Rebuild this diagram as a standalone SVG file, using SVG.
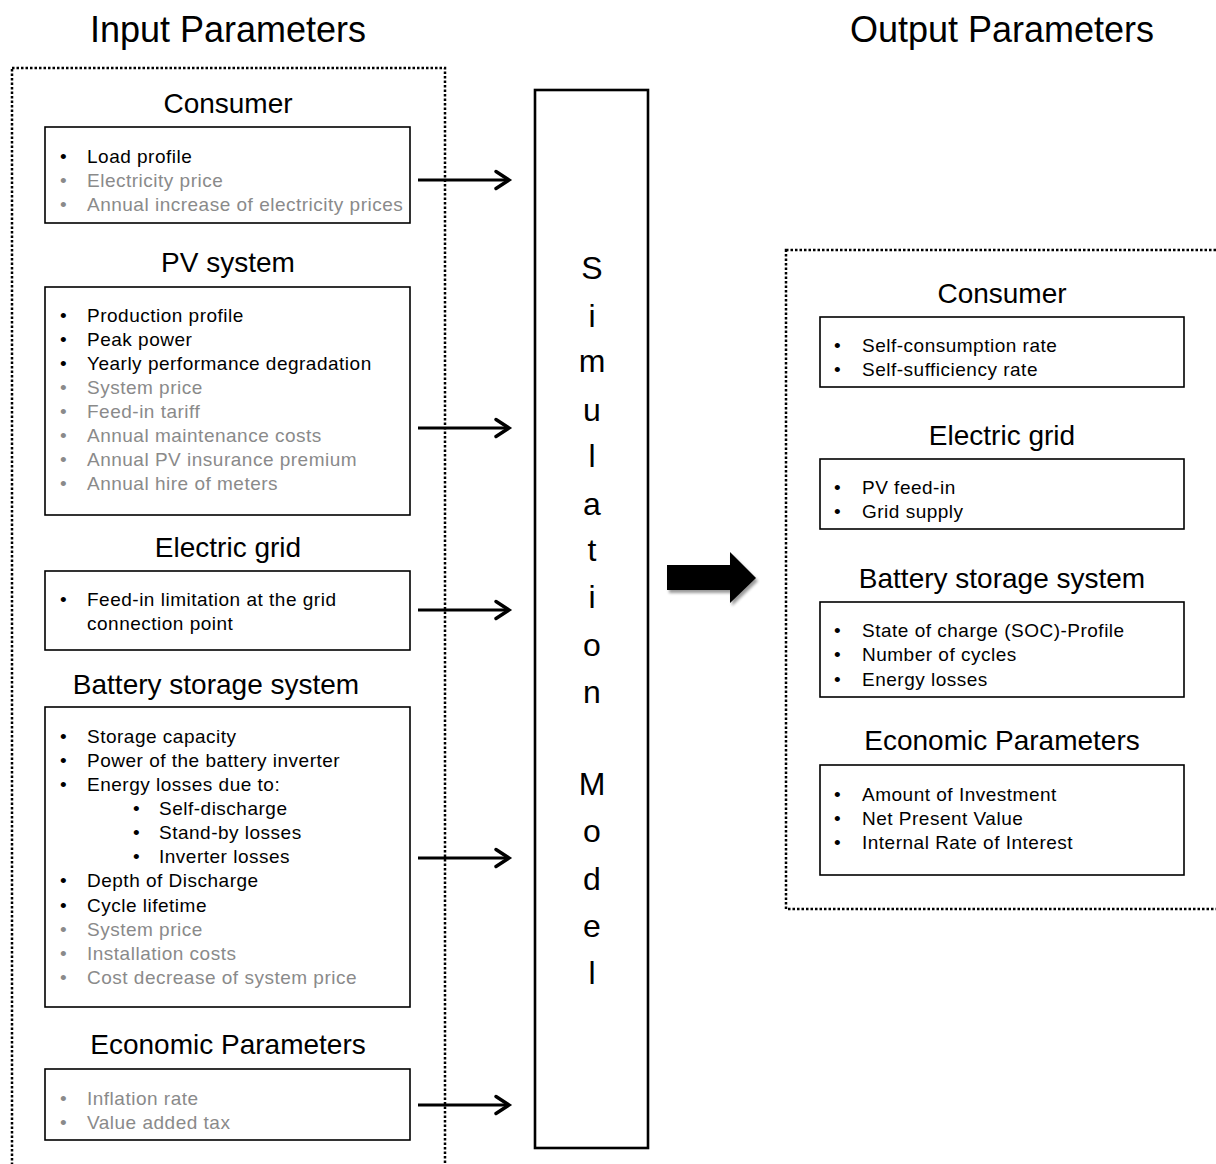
<svg xmlns="http://www.w3.org/2000/svg" width="1216" height="1164" viewBox="0 0 1216 1164">
<defs>
<style>
text{font-family:"Liberation Sans",Arial,sans-serif;fill:#000}
.title{font-size:36px;text-anchor:middle}
.head{font-size:28px;text-anchor:middle}
.it{font-size:19px;letter-spacing:0.5px}
.g{fill:#8a8a8a}
.box{fill:none;stroke:#000;stroke-width:1.6}
.dot{fill:none;stroke:#000;stroke-width:2.5;stroke-dasharray:2.5 2}
.sim{font-size:32px;text-anchor:middle}
.conn{stroke:#000;stroke-width:3.2;fill:none}
</style>
<marker id="ah" markerWidth="8" markerHeight="10" refX="6" refY="5" orient="auto" markerUnits="userSpaceOnUse" viewBox="0 0 8 10" overflow="visible">
<path d="M-7,-3.5 L6,5 L-7,13.5" fill="none" stroke="#000" stroke-width="3.4" stroke-linecap="round" stroke-linejoin="miter"/>
</marker>
<filter id="sh" x="-20%" y="-20%" width="150%" height="150%">
<feGaussianBlur in="SourceAlpha" stdDeviation="1.5"/>
<feOffset dx="2" dy="3" result="b"/>
<feComponentTransfer><feFuncA type="linear" slope="0.4"/></feComponentTransfer>
<feMerge><feMergeNode/><feMergeNode in="SourceGraphic"/></feMerge>
</filter>
</defs>
<rect width="1216" height="1164" fill="#fff"/>

<text class="title" x="228" y="42">Input Parameters</text>
<text class="title" x="1002" y="42">Output Parameters</text>

<rect class="dot" x="12" y="68" width="433" height="1110"/>
<rect class="dot" x="786" y="250" width="440" height="659"/>

<g id="in-consumer">
<text class="head" x="228" y="113">Consumer</text>
<rect class="box" x="45" y="127" width="365" height="96"/>
<text class="it" x="60" y="163">•</text><text class="it" x="87" y="163">Load profile</text>
<text class="it g" x="60" y="187">•</text><text class="it g" x="87" y="187">Electricity price</text>
<text class="it g" x="60" y="211">•</text><text class="it g" x="87" y="211">Annual increase of electricity prices</text>
</g>

<g id="in-pv">
<text class="head" x="228" y="272">PV system</text>
<rect class="box" x="45" y="287" width="365" height="228"/>
<text class="it" x="60" y="322">•</text><text class="it" x="87" y="322">Production profile</text>
<text class="it" x="60" y="346">•</text><text class="it" x="87" y="346">Peak power</text>
<text class="it" x="60" y="370">•</text><text class="it" x="87" y="370">Yearly performance degradation</text>
<text class="it g" x="60" y="394">•</text><text class="it g" x="87" y="394">System price</text>
<text class="it g" x="60" y="418">•</text><text class="it g" x="87" y="418">Feed-in tariff</text>
<text class="it g" x="60" y="442">•</text><text class="it g" x="87" y="442">Annual maintenance costs</text>
<text class="it g" x="60" y="466">•</text><text class="it g" x="87" y="466">Annual PV insurance premium</text>
<text class="it g" x="60" y="490">•</text><text class="it g" x="87" y="490">Annual hire of meters</text>
</g>

<g id="in-grid">
<text class="head" x="228" y="557">Electric grid</text>
<rect class="box" x="45" y="571" width="365" height="79"/>
<text class="it" x="60" y="606">•</text><text class="it" x="87" y="606">Feed-in limitation at the grid</text>
<text class="it" x="87" y="630">connection point</text>
</g>

<g id="in-battery">
<text class="head" x="216" y="694">Battery storage system</text>
<rect class="box" x="45" y="707" width="365" height="300"/>
<text class="it" x="60" y="743">•</text><text class="it" x="87" y="743">Storage capacity</text>
<text class="it" x="60" y="767">•</text><text class="it" x="87" y="767">Power of the battery inverter</text>
<text class="it" x="60" y="791">•</text><text class="it" x="87" y="791">Energy losses due to:</text>
<text class="it" x="133" y="815">•</text><text class="it" x="159" y="815">Self-discharge</text>
<text class="it" x="133" y="839">•</text><text class="it" x="159" y="839">Stand-by losses</text>
<text class="it" x="133" y="863">•</text><text class="it" x="159" y="863">Inverter losses</text>
<text class="it" x="60" y="887">•</text><text class="it" x="87" y="887">Depth of Discharge</text>
<text class="it" x="60" y="912">•</text><text class="it" x="87" y="912">Cycle lifetime</text>
<text class="it g" x="60" y="936">•</text><text class="it g" x="87" y="936">System price</text>
<text class="it g" x="60" y="960">•</text><text class="it g" x="87" y="960">Installation costs</text>
<text class="it g" x="60" y="984">•</text><text class="it g" x="87" y="984">Cost decrease of system price</text>
</g>

<g id="in-econ">
<text class="head" x="228" y="1054">Economic Parameters</text>
<rect class="box" x="45" y="1069" width="365" height="71"/>
<text class="it g" x="60" y="1105">•</text><text class="it g" x="87" y="1105">Inflation rate</text>
<text class="it g" x="60" y="1129">•</text><text class="it g" x="87" y="1129">Value added tax</text>
</g>

<g id="simulation-model">
<rect x="535" y="90" width="113" height="1058" fill="none" stroke="#000" stroke-width="2.6"/>
<text class="sim" x="592" y="279">S</text>
<text class="sim" x="592" y="327">i</text>
<text class="sim" x="592" y="372">m</text>
<text class="sim" x="592" y="421">u</text>
<text class="sim" x="592" y="467">l</text>
<text class="sim" x="592" y="515">a</text>
<text class="sim" x="592" y="561">t</text>
<text class="sim" x="592" y="608">i</text>
<text class="sim" x="592" y="656">o</text>
<text class="sim" x="592" y="703">n</text>
<text class="sim" x="592" y="795">M</text>
<text class="sim" x="592" y="842">o</text>
<text class="sim" x="592" y="890">d</text>
<text class="sim" x="592" y="937">e</text>
<text class="sim" x="592" y="984">l</text>
</g>

<g id="out-consumer">
<text class="head" x="1002" y="303">Consumer</text>
<rect class="box" x="820" y="317" width="364" height="70"/>
<text class="it" x="834" y="352">•</text><text class="it" x="862" y="352">Self-consumption rate</text>
<text class="it" x="834" y="376">•</text><text class="it" x="862" y="376">Self-sufficiency rate</text>
</g>

<g id="out-grid">
<text class="head" x="1002" y="445">Electric grid</text>
<rect class="box" x="820" y="459" width="364" height="70"/>
<text class="it" x="834" y="494">•</text><text class="it" x="862" y="494">PV feed-in</text>
<text class="it" x="834" y="518">•</text><text class="it" x="862" y="518">Grid supply</text>
</g>

<g id="out-battery">
<text class="head" x="1002" y="588">Battery storage system</text>
<rect class="box" x="820" y="602" width="364" height="95"/>
<text class="it" x="834" y="637">•</text><text class="it" x="862" y="637">State of charge (SOC)-Profile</text>
<text class="it" x="834" y="661">•</text><text class="it" x="862" y="661">Number of cycles</text>
<text class="it" x="834" y="686">•</text><text class="it" x="862" y="686">Energy losses</text>
</g>

<g id="out-econ">
<text class="head" x="1002" y="750">Economic Parameters</text>
<rect class="box" x="820" y="765" width="364" height="110"/>
<text class="it" x="834" y="801">•</text><text class="it" x="862" y="801">Amount of Investment</text>
<text class="it" x="834" y="825">•</text><text class="it" x="862" y="825">Net Present Value</text>
<text class="it" x="834" y="849">•</text><text class="it" x="862" y="849">Internal Rate of Interest</text>
</g>

<g id="connectors">
<line class="conn" x1="418" y1="180" x2="509" y2="180" marker-end="url(#ah)"/>
<line class="conn" x1="418" y1="428" x2="509" y2="428" marker-end="url(#ah)"/>
<line class="conn" x1="418" y1="610" x2="509" y2="610" marker-end="url(#ah)"/>
<line class="conn" x1="418" y1="858" x2="509" y2="858" marker-end="url(#ah)"/>
<line class="conn" x1="418" y1="1105" x2="509" y2="1105" marker-end="url(#ah)"/>
<path d="M667,565 L730,565 L730,552 L756,578 L730,603 L730,590 L667,590 Z" fill="#000" filter="url(#sh)"/>
</g>
</svg>
